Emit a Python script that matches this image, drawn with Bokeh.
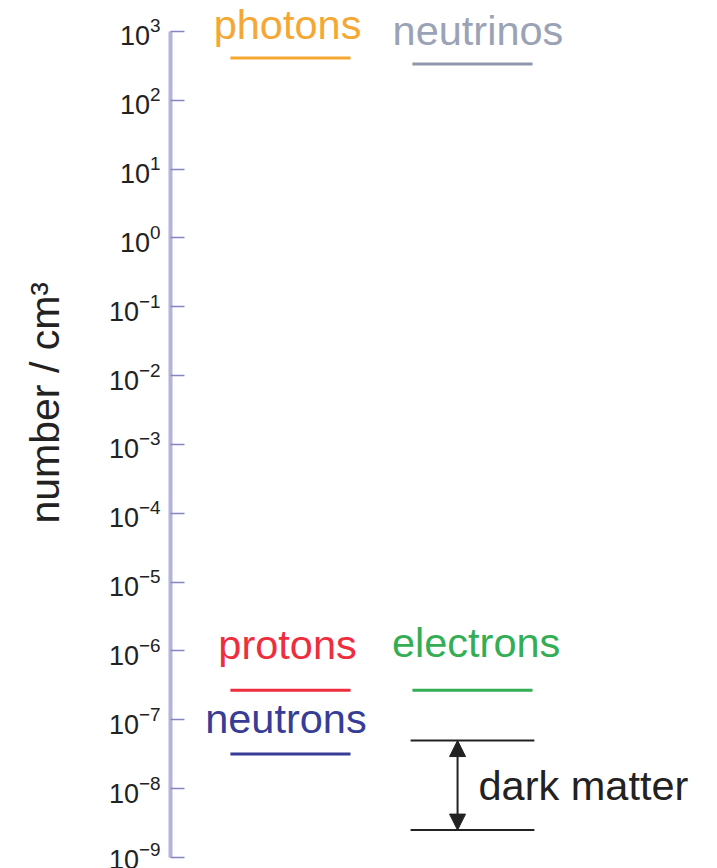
import math
from bokeh.plotting import figure
from bokeh.models import Range1d, FixedTicker, ColumnDataSource, Arrow, NormalHead, Title
from bokeh.core.properties import value
from bokeh.embed import file_html
from bokeh.resources import INLINE

# ---- data ----
species = ["photons", "neutrinos", "protons", "electrons", "neutrons"]
density = [411, 336, 2.7e-7, 2.7e-7, 3.2e-8]          # number / cm^3
column = [0, 1, 0, 1, 0]
dark_matter_range = [2.5e-9, 5.0e-8]
tick_exponents = list(range(-9, 4))

# ---- styles ----
colors = ["#f5a733", "#9aa3b5", "#ee2e3d", "#33ae55", "#373d96"]
line_colors = ["#f5a733", "#8e98aa", "#ee2e3d", "#33ae55", "#373d96"]
text_yoff = [-34, -34, -46, -48, -35]
text_dx = [-0.016, 0.03, -0.016, 0.02, -0.025]
FONT = "Liberation Sans"
HW = 0.33

p = figure(width=717, height=868, y_axis_type="log",
           x_range=Range1d(-0.659, 2.346), y_range=Range1d(1e-9, 10 ** 3.45),
           output_backend="svg", toolbar_location=None,
           x_axis_location=None,
           min_border_left=170, min_border_top=0, min_border_bottom=11,
           min_border_right=0)
p.outline_line_color = None
p.xgrid.visible = False
p.ygrid.visible = False

ax = p.yaxis[0]
ax.bounds = (1e-9, 1e3)
ax.ticker = FixedTicker(ticks=[10.0 ** e for e in tick_exponents])
ax.axis_line_color = "#b4b4da"
ax.axis_line_width = 4
ax.major_tick_line_color = "#8585c4"
ax.major_tick_line_width = 1.5
ax.major_tick_in = 14
ax.major_tick_out = 0
ax.minor_tick_line_color = None
ax.major_label_text_font = FONT
ax.major_label_text_font_size = "27px"
ax.major_label_text_color = "#222222"
ax.major_label_standoff = 10
# blank axis label used only as spacing between tick labels and the title
ax.axis_label = " "
ax.axis_label_text_font_size = "10px"
ax.axis_label_standoff = 19

p.add_layout(Title(text="number / cm³", align="left", offset=334, standoff=10,
                   text_font=FONT, text_font_size="41px",
                   text_font_style="normal", text_color="#222222"), "left")

src = ColumnDataSource(dict(
    x0=[c - HW for c in column], x1=[c + HW for c in column],
    xt=[c + d for c, d in zip(column, text_dx)], y=density, name=species,
    color=colors, lcolor=line_colors, yoff=text_yoff))

p.segment(x0="x0", x1="x1", y0="y", y1="y", source=src,
          line_color="lcolor", line_width=3)
p.text(x="xt", y="y", text="name", source=src, text_color="color",
       text_font=value(FONT), text_font_size="41.5px", text_align="center",
       text_baseline="alphabetic", y_offset="yoff")

# dark matter
dm_lo, dm_hi = dark_matter_range
p.segment(x0=[1 - 0.34, 1 - 0.34], x1=[1 + 0.34, 1 + 0.34],
          y0=[dm_lo, dm_hi], y1=[dm_lo, dm_hi], line_color="#222222", line_width=2)
p.add_layout(Arrow(x_start=0.918, y_start=dm_lo, x_end=0.918, y_end=dm_hi,
                   line_color="#222222", line_width=2,
                   start=NormalHead(size=16, fill_color="#222222", line_color="#222222"),
                   end=NormalHead(size=16, fill_color="#222222", line_color="#222222")))
p.text(x=[1.033], y=[math.sqrt(dm_lo * dm_hi)], text=["dark matter"],
       text_color="#222222", text_font=value(FONT), text_font_size="41.5px",
       text_align="left", text_baseline="middle")

open("out.html", "w").write(file_html(p, INLINE))
